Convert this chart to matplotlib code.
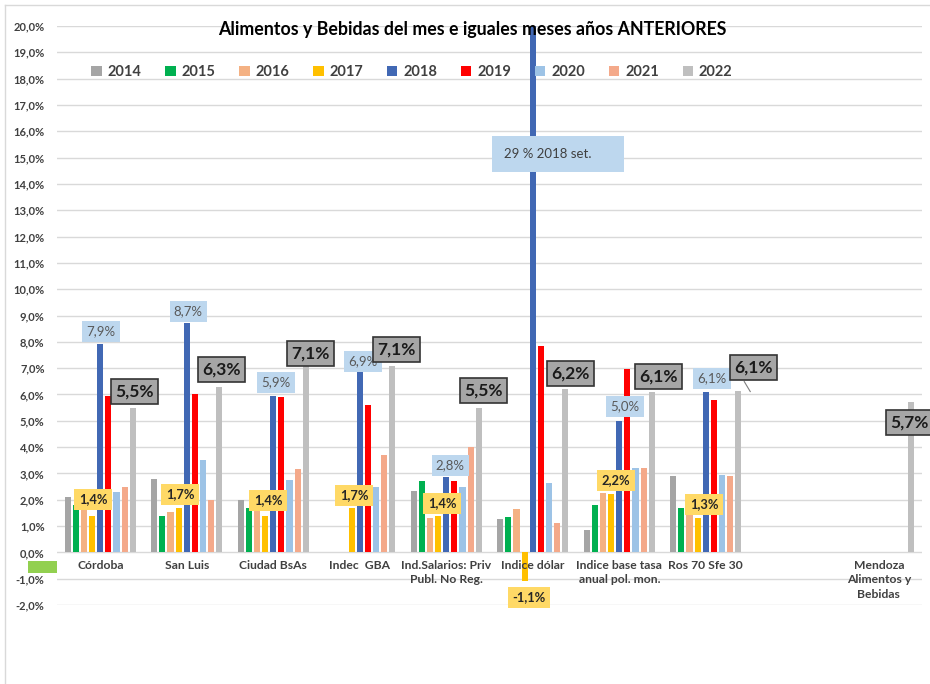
import numpy as np
import matplotlib
matplotlib.use("Agg")
import matplotlib.pyplot as plt
from matplotlib.patches import Rectangle
from matplotlib.lines import Line2D

plt.rcParams['font.family'] = ['Lato', 'DejaVu Sans']

categories = ["Córdoba", "San Luis", "Ciudad BsAs", "Indec  GBA",
              "Ind.Salarios: Priv\nPubl. No Reg.", "Indice dólar",
              "Indice base tasa\nanual pol. mon.", "Ros 70 Sfe 30", "",
              "Mendoza\nAlimentos y\nBebidas"]
years = ["2014", "2015", "2016", "2017", "2018", "2019", "2020", "2021", "2022"]
nan = np.nan
v2014 = [2.1, 2.8, 2.0, nan, 2.35, 1.25, 0.85, 2.9, nan, nan]
v2015 = [1.8, 1.4, 1.7, nan, 2.7, 1.35, 1.8, 1.7, nan, nan]
v2016 = [1.6, 1.55, 1.7, nan, 1.3, 1.65, 2.25, 1.6, nan, nan]
v2017 = [1.4, 1.7, 1.4, 1.7, 1.4, -1.1, 2.2, 1.3, nan, nan]
v2018 = [7.9, 8.7, 5.95, 6.9, 2.85, 29.0, 5.0, 6.1, nan, nan]
v2019 = [5.95, 6.0, 5.9, 5.6, 2.7, 7.85, 6.95, 5.8, nan, nan]
v2020 = [2.3, 3.5, 2.75, 2.5, 2.5, 2.65, 3.2, 2.95, nan, nan]
v2021 = [2.5, 2.0, 3.15, 3.7, 4.0, 1.1, 3.2, 2.9, nan, nan]
v2022 = [5.5, 6.3, 7.1, 7.1, 5.5, 6.2, 6.1, 6.15, nan, 5.7]
series = [v2014, v2015, v2016, v2017, v2018, v2019, v2020, v2021, v2022]
colors = ["#A5A5A5", "#00B050", "#F4B183", "#FFC000", "#4168B4", "#FF0000",
          "#9DC3E6", "#F4A98A", "#BFBFBF"]
ytick_vals = list(range(-2, 21))
ytick_labels = [f"{v},0%" for v in ytick_vals]

fig = plt.figure(figsize=(9.3, 6.84), dpi=100)
ax = fig.add_axes([57/930, 1-605/684, 865/930, (605-26)/684])

x = np.arange(len(categories))
step, width = 0.094, 0.072
for j, (vals, col, yr) in enumerate(zip(series, colors, years)):
    ax.bar(x + (j-4)*step, vals, width=width, color=col, label=yr, zorder=2)

ax.set_xlim(-0.5, len(categories)-0.5)
ax.set_ylim(-2, 20)
ax.set_yticks(ytick_vals)
ax.set_yticklabels(ytick_labels, fontsize=8, fontweight='bold', color='#404040')
ax.tick_params(axis='y', length=0, pad=9)
ax.set_xticks([])
for s in ax.spines.values():
    s.set_visible(False)
ax.grid(axis='y', color='#D9D9D9', lw=1, zorder=0)

for i, c in enumerate(categories):
    ax.text(i, -0.3, c, ha='center', va='top', fontsize=8.7, fontweight='bold',
            color='#404040', linespacing=1.35)

fig.text(472/930, 1-30/684, "Alimentos y Bebidas del mes e iguales meses años ANTERIORES",
         ha='center', va='center', fontsize=12.8, fontweight='bold', color='black')

leg = ax.legend(loc='center', bbox_to_anchor=(412/930, 1-72/684), bbox_transform=fig.transFigure,
                ncol=9, frameon=False, handlelength=0.7, handleheight=0.7, handletextpad=0.4,
                columnspacing=1.65, prop={'weight': 'bold', 'size': 10.5})
for t in leg.get_texts():
    t.set_color('#404040')

def px(pxx, pyy):
    return (pxx - 100)/86.5, (553 - pyy)/26.35

blue_lbl = [("7,9%", 101, 332), ("8,7%", 188, 312), ("5,9%", 276, 383), ("6,9%", 363, 362),
            ("2,8%", 450, 466), ("5,0%", 625, 407), ("6,1%", 712, 379)]
for t, a, b in blue_lbl:
    xx, yy = px(a, b)
    ax.text(xx, yy, t, ha='center', va='center', fontsize=9.5, color='#595959', zorder=5,
            bbox=dict(boxstyle='square,pad=0.32', fc='#BDD7EE', ec='none'))

xx, yy = px(504, 154)
ax.text(xx, yy, "29 % 2018 set.      ", ha='left', va='center', fontsize=9.5, color='#404040', zorder=5,
        bbox=dict(boxstyle='square,pad=0.9', fc='#BDD7EE', ec='none'))

yellow_lbl = [("1,4%", 93, 500), ("1,7%", 180, 495), ("1,4%", 268, 501), ("1,7%", 354, 496),
              ("1,4%", 442, 504), ("-1,1%", 529, 598), ("2,2%", 616, 481), ("1,3%", 704, 505)]
for t, a, b in yellow_lbl:
    xx, yy = px(a, b)
    ax.text(xx, yy, t, ha='center', va='center', fontsize=9.3, fontweight='bold', color='#262626',
            zorder=5, clip_on=False,
            bbox=dict(boxstyle='square,pad=0.35', fc='#FFD966', ec='none'))

gray_lbl = [("5,5%", 134, 392), ("6,3%", 221, 370), ("7,1%", 310, 354), ("7,1%", 396, 350),
            ("5,5%", 483, 391), ("6,2%", 570, 374), ("6,1%", 658, 377), ("6,1%", 753, 368)]
for t, a, b in gray_lbl:
    xx, yy = px(a, b)
    ax.text(xx, yy, t, ha='center', va='center', fontsize=12.5, fontweight='bold', color='#1A1A1A',
            zorder=5, bbox=dict(boxstyle='square,pad=0.25', fc='#A6A6A6', ec='#333333', lw=1.2))
xx, yy = px(928, 423)
ax.text(xx, yy, "5,7%", ha='right', va='center', fontsize=12.5, fontweight='bold', color='#1A1A1A',
        zorder=5, clip_on=False,
        bbox=dict(boxstyle='square,pad=0.25', fc='#A6A6A6', ec='#333333', lw=1.2))

x1, y1 = px(744, 382)
x2, y2 = px(750, 392)
ax.plot([x1, x2], [y1, y2], color='#7F7F7F', lw=0.8, zorder=4)

fig.patches.append(Rectangle((28/930, 1-573/684), 29/930, 12/684, transform=fig.transFigure,
                             fc='#92D050', ec='none'))
fig.lines.append(Line2D([5/930, 5/930], [0, 1-5/684], transform=fig.transFigure, color='#D9D9D9', lw=1))
fig.lines.append(Line2D([5/930, 1], [1-5/684, 1-5/684], transform=fig.transFigure, color='#D9D9D9', lw=1))

fig.savefig("out.png", dpi=100)
